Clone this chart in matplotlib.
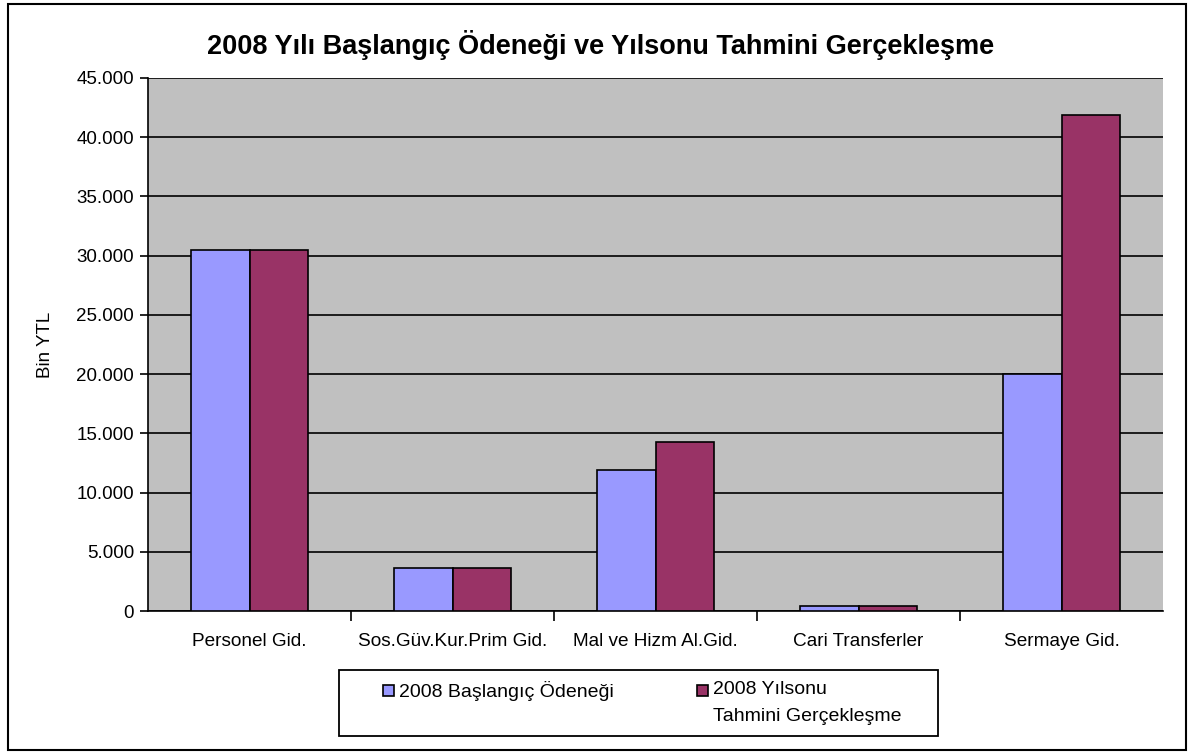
import matplotlib
matplotlib.use("Agg")
import matplotlib.pyplot as plt
from matplotlib.patches import Rectangle
from matplotlib.ticker import FixedLocator, FuncFormatter
import numpy as np

plt.rcParams['font.family'] = ['Liberation Sans', 'DejaVu Sans']

categories = ["Personel Gid.", "Sos.Güv.Kur.Prim Gid.", "Mal ve Hizm Al.Gid.",
              "Cari Transferler", "Sermaye Gid."]
baslangic = [30500, 3650, 11900, 450, 20000]
yilsonu = [30500, 3650, 14300, 430, 41900]
series_names = ["2008 Başlangıç Ödeneği", "2008 Yılsonu\nTahmini Gerçekleşme"]
series_colors = ["#9999FF", "#993366"]
title = "2008 Yılı Başlangıç Ödeneği ve Yılsonu Tahmini Gerçekleşme"
ylabel = "Bin YTL"

W, H = 1189, 753
fig = plt.figure(figsize=(W / 100, H / 100), dpi=100)
ax = fig.add_axes([148 / W, 1 - 611 / H, (1163 - 148) / W, (611 - 78) / H])
ax.set_facecolor("#C0C0C0")

x = np.arange(len(categories))
bw = 0.286
ax.bar(x - bw / 2, baslangic, bw, color=series_colors[0], edgecolor="black", linewidth=1.2,
       label=series_names[0], zorder=3)
ax.bar(x + bw / 2, yilsonu, bw, color=series_colors[1], edgecolor="black", linewidth=1.2,
       label=series_names[1], zorder=3)

ax.set_xlim(-0.5, len(categories) - 0.5)
ax.set_ylim(0, 45000)
ax.yaxis.set_major_locator(FixedLocator(np.arange(0, 45001, 5000)))
ax.yaxis.set_major_formatter(FuncFormatter(lambda v, p: f"{int(v):,}".replace(",", ".")))
ax.grid(axis="y", color="black", linewidth=1.2, zorder=1)
ax.set_axisbelow(True)

ax.set_xticks(x)
ax.set_xticklabels(categories, fontsize=13.7)
ax.tick_params(axis="x", which="major", length=0, pad=16)
ax.xaxis.set_minor_locator(FixedLocator(np.arange(0.5, len(categories) - 0.5, 1)))
ax.tick_params(axis="x", which="minor", length=7, width=1.2, direction="out")
ax.tick_params(axis="y", length=6, width=1.2, direction="out", labelsize=13.5, pad=4)

for s in ["top", "right"]:
    ax.spines[s].set_visible(False)
ax.spines["left"].set_linewidth(1.2)
ax.spines["bottom"].set_linewidth(1.2)

ax.set_ylabel(ylabel, fontsize=13.5, labelpad=16)

fig.text(601 / W, 1 - 45 / H, title, ha="center", va="center",
         fontsize=19.5, fontweight="bold")

# legend box (drawn in figure pixel coordinates)
def fx(px):
    return px / W

def fy(py):
    return 1 - py / H

fig.patches.append(Rectangle((fx(339), fy(736)), (938 - 339) / W, (736 - 670) / H,
                             transform=fig.transFigure, facecolor="white",
                             edgecolor="black", linewidth=1.3))
handle_x = [383, 697]
text_x = [399, 713]
for i, name in enumerate(series_names):
    fig.patches.append(Rectangle((fx(handle_x[i]), fy(696)), 11 / W, 11 / H,
                                 transform=fig.transFigure, facecolor=series_colors[i],
                                 edgecolor="black", linewidth=1.2))
    fig.text(fx(text_x[i]), fy(681), name, ha="left", va="top", fontsize=14,
             linespacing=1.75)

# outer border
fig.patches.append(Rectangle((8 / W, 3 / H), (1186 - 8) / W, (749 - 3) / H,
                             transform=fig.transFigure, fill=False,
                             edgecolor="black", linewidth=1.5))

fig.savefig("out.png", dpi=100)
